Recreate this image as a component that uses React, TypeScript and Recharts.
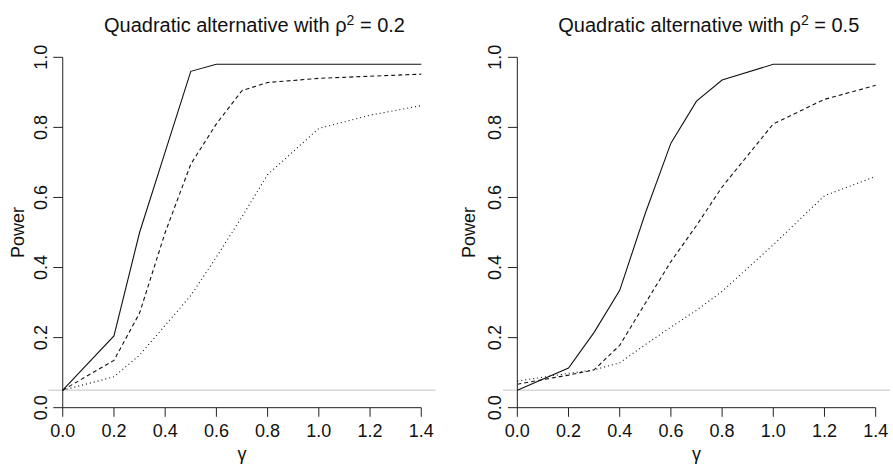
import React from 'react';
import { LineChart, Line, XAxis, YAxis, ReferenceLine } from 'recharts';

const gamma = [0, 0.2, 0.3, 0.4, 0.5, 0.6, 0.7, 0.8, 1.0, 1.2, 1.4];

const solidLeft = [0.05, 0.205, 0.5, 0.73, 0.96, 0.98, 0.98, 0.98, 0.98, 0.98, 0.98];
const dashedLeft = [0.05, 0.135, 0.27, 0.5, 0.695, 0.81, 0.905, 0.928, 0.94, 0.946, 0.952];
const dottedLeft = [0.05, 0.088, 0.15, 0.235, 0.32, 0.43, 0.545, 0.665, 0.797, 0.835, 0.862];

const solidRight = [0.05, 0.113, 0.215, 0.335, 0.555, 0.755, 0.875, 0.935, 0.98, 0.98, 0.98];
const dashedRight = [0.067, 0.093, 0.108, 0.178, 0.298, 0.417, 0.52, 0.63, 0.81, 0.88, 0.92];
const dottedRight = [0.076, 0.098, 0.108, 0.128, 0.18, 0.23, 0.278, 0.332, 0.465, 0.605, 0.66];

const xTicks = [0, 0.2, 0.4, 0.6, 0.8, 1.0, 1.2, 1.4];
const yTicks = [0, 0.2, 0.4, 0.6, 0.8, 1.0];
const refLevel = 0.05;

const titles = ['0.2', '0.5'];

const FONT = '"Liberation Sans", Arial, Helvetica, sans-serif';
const INK = '#111';

function buildRows(s: number[], d: number[], t: number[]) {
  return gamma.map((g, i) => ({ x: g, solid: s[i], dashed: d[i], dotted: t[i] }));
}

const XTick = (props: any) => {
  const { x, y, payload } = props;
  return (
    <text x={x} y={y + 15} textAnchor="middle" fontSize={18} fontFamily={FONT} fill={INK}>
      {Number(payload.value).toFixed(1)}
    </text>
  );
};

const YTick = (props: any) => {
  const { x, y, payload } = props;
  const tx = x - 1.5;
  return (
    <text
      x={tx}
      y={y}
      textAnchor="middle"
      fontSize={18}
      fontFamily={FONT}
      fill={INK}
      transform={`rotate(-90 ${tx} ${y})`}
    >
      {Number(payload.value).toFixed(1)}
    </text>
  );
};

type PanelProps = {
  rows: any[];
  left: number;
  width: number;
  yAxisWidth: number;
  rightMargin: number;
};

const Panel = ({ rows, left, width, yAxisWidth, rightMargin }: PanelProps) => (
  <div style={{ position: 'absolute', left, top: 0 }}>
    <LineChart
      width={width}
      height={467}
      data={rows}
      margin={{ top: 43.3, right: rightMargin, bottom: 0, left: 0 }}
    >
      <XAxis
        type="number"
        dataKey="x"
        domain={[-0.056, 1.456]}
        ticks={xTicks}
        axisLine={false}
        tickLine={false}
        tickSize={0}
        tickMargin={0}
        height={45.3}
        tick={<XTick />}
        interval={0}
      />
      <YAxis
        type="number"
        domain={[-0.04, 1.04]}
        ticks={yTicks}
        axisLine={false}
        tickLine={false}
        tickSize={0}
        tickMargin={0}
        width={yAxisWidth}
        tick={<YTick />}
        interval={0}
      />
      <ReferenceLine y={refLevel} stroke="#c4c4c4" strokeWidth={1} />
      <ReferenceLine segment={[{ x: 0, y: 0 }, { x: 1.4, y: 0 }]} stroke="#222" strokeWidth={1} />
      <ReferenceLine segment={[{ x: 0, y: 0 }, { x: 0, y: 1 }]} stroke="#222" strokeWidth={1} />
      {xTicks.map((t) => (
        <ReferenceLine key={'xt' + t} segment={[{ x: t, y: 0 }, { x: t, y: -0.026 }]} stroke="#222" strokeWidth={1} />
      ))}
      {yTicks.map((t) => (
        <ReferenceLine key={'yt' + t} segment={[{ x: 0, y: t }, { x: -0.037, y: t }]} stroke="#222" strokeWidth={1} />
      ))}
      <Line type="linear" dataKey="solid" stroke={INK} strokeWidth={1.1} dot={false} isAnimationActive={false} />
      <Line type="linear" dataKey="dashed" stroke={INK} strokeWidth={1.1} strokeDasharray="4 3" dot={false} isAnimationActive={false} />
      <Line type="linear" dataKey="dotted" stroke={INK} strokeWidth={1.1} strokeDasharray="1 3" dot={false} isAnimationActive={false} />
    </LineChart>
  </div>
);

const Title = ({ cx, value }: { cx: number; value: string }) => (
  <text x={cx} y={31.7} textAnchor="middle" fontSize={20} fontFamily={FONT} fill={INK}>
    <tspan>Quadratic alternative with ρ</tspan>
    <tspan fontSize={14} dy={-7}>2</tspan>
    <tspan dy={7}> = {value}</tspan>
  </text>
);

const YLabel = ({ x }: { x: number }) => (
  <text
    x={x}
    y={232.5}
    textAnchor="middle"
    fontSize={18}
    fontFamily={FONT}
    fill={INK}
    transform={`rotate(-90 ${x} 232.5)`}
  >
    Power
  </text>
);

export default function App() {
  const rowsLeft = buildRows(solidLeft, dashedLeft, dottedLeft);
  const rowsRight = buildRows(solidRight, dashedRight, dottedRight);
  return (
    <div style={{ position: 'absolute', left: 0, top: 0, width: 893, height: 467, background: '#fff', overflow: 'hidden' }}>
      <Panel rows={rowsLeft} left={0} width={446} yAxisWidth={48.4} rightMargin={10.4} />
      <Panel rows={rowsRight} left={446} width={447} yAxisWidth={57} rightMargin={3} />
      <svg width={893} height={467} style={{ position: 'absolute', left: 0, top: 0, pointerEvents: 'none' }}>
        <Title cx={254.5} value={titles[0]} />
        <Title cx={708.8} value={titles[1]} />
        <YLabel x={23.5} />
        <YLabel x={475} />
        <text x={242} y={460} textAnchor="middle" fontSize={18} fontFamily={FONT} fill={INK}>γ</text>
        <text x={696.5} y={460} textAnchor="middle" fontSize={18} fontFamily={FONT} fill={INK}>γ</text>
      </svg>
    </div>
  );
}
